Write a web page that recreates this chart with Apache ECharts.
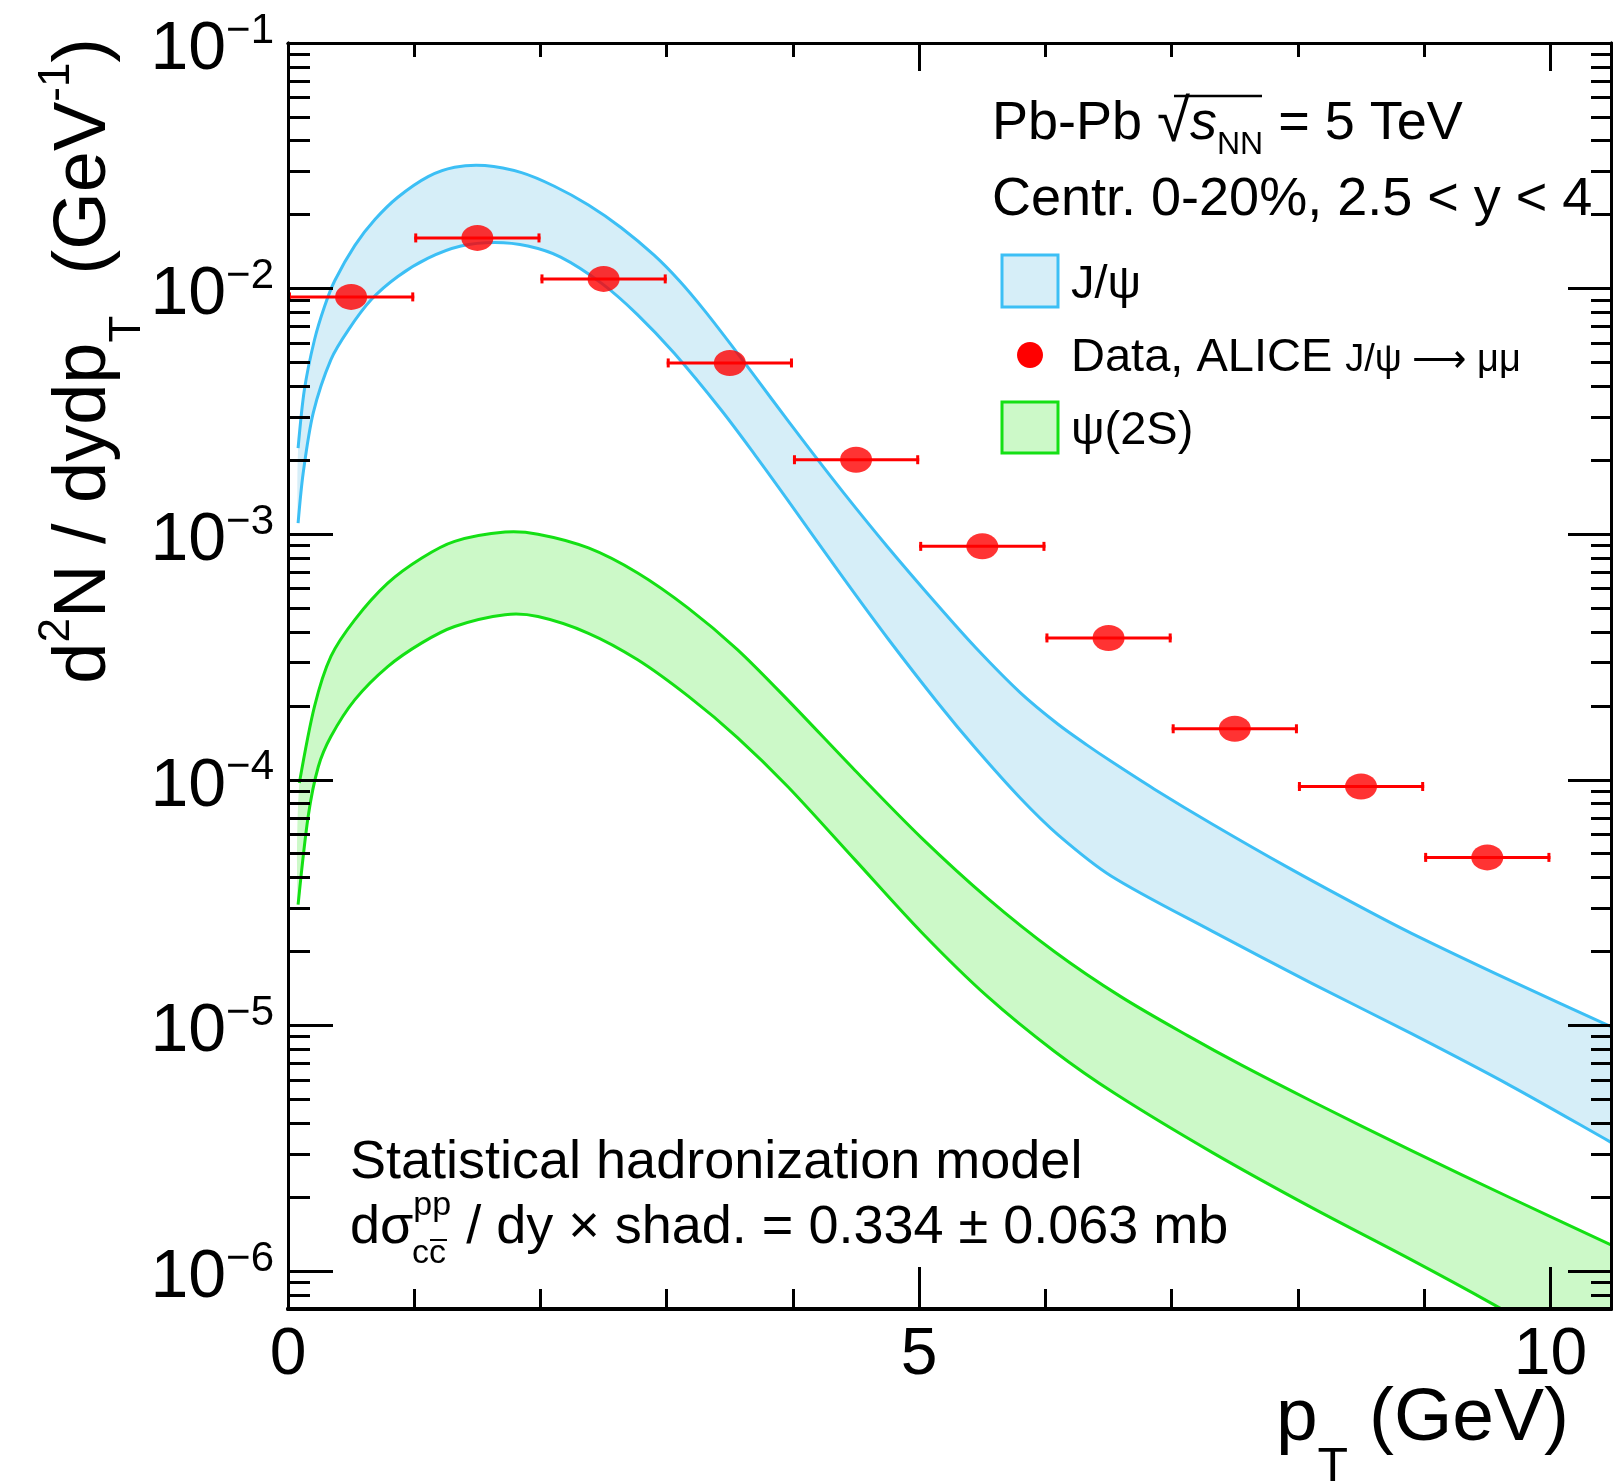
<!DOCTYPE html>
<html><head><meta charset="utf-8">
<script src="https://cdn.jsdelivr.net/npm/echarts@6/dist/echarts.min.js"></script>
<style>html,body{margin:0;padding:0;background:#fff}#c{width:1615px;height:1481px}</style>
</head><body><div id="c"></div>
<script>
// ---------------- data ----------------
const ptData      = [0.5, 1.5, 2.5, 3.5, 4.5, 5.5, 6.5, 7.5, 8.5, 9.5];
const ptHalfWidth = [0.5, 0.5, 0.5, 0.5, 0.5, 0.5, 0.5, 0.5, 0.5, 0.5];
const yieldData   = [9.25e-3, 1.608e-2, 1.095e-2, 4.98e-3, 2.01e-3, 8.92e-4, 3.78e-4, 1.613e-4, 9.39e-5, 4.83e-5];

const jpsiUpX = [0.08,0.13,0.21,0.29,0.37,0.53,0.69,0.87,1.11,1.32,1.56,1.85,2.11,2.38,2.64,2.90,3.10,3.30,3.56,3.83,4.10,4.40,4.75,5.15,5.45,5.80,6.10,6.33,6.52,6.86,7.32,7.92,8.50,8.90,9.69,10.48];
const jpsiUpY = [2.24e-3,3.88e-3,6.19e-3,8.47e-3,1.076e-2,1.50e-2,1.914e-2,2.355e-2,2.858e-2,3.119e-2,3.17e-2,2.965e-2,2.61e-2,2.19e-2,1.77e-2,1.368e-2,1.076e-2,8.13e-3,5.46e-3,3.56e-3,2.33e-3,1.476e-3,8.87e-4,5.11e-4,3.44e-4,2.265e-4,1.683e-4,1.384e-4,1.189e-4,9.18e-5,6.61e-5,4.40e-5,3.03e-5,2.37e-5,1.517e-5,9.89e-6];
const jpsiLoX = [0.08,0.12,0.20,0.34,0.48,0.66,0.87,1.11,1.37,1.64,1.90,2.16,2.49,2.77,3.06,3.43,3.70,3.96,4.40,4.75,5.15,5.45,5.80,6.10,6.52,7.32,8.11,8.90,9.69,10.48];
const jpsiLoY = [1.11e-3,1.77e-3,3.12e-3,5.14e-3,6.81e-3,9.02e-3,1.12e-2,1.33e-2,1.49e-2,1.54e-2,1.49e-2,1.343e-2,1.045e-2,7.82e-3,5.45e-3,3.21e-3,2.10e-3,1.374e-3,6.62e-4,3.77e-4,2.05e-4,1.337e-4,8.43e-5,5.97e-5,4.06e-5,2.42e-5,1.483e-5,9.25e-6,5.66e-6,3.34e-6];

const psi2UpX = [0.09,0.21,0.34,0.53,0.79,1.06,1.32,1.72,1.98,2.38,2.77,3.17,3.56,3.96,4.49,5.02,5.54,6.07,6.60,7.13,7.55,8.11,8.90,9.69,10.48];
const psi2UpY = [9.7e-5,1.99e-4,3.18e-4,4.49e-4,6.32e-4,8.0e-4,9.35e-4,1.02e-3,1.0e-3,8.79e-4,6.95e-4,5.0e-4,3.39e-4,2.11e-4,1.094e-4,5.79e-5,3.30e-5,2.00e-5,1.306e-5,9.06e-6,6.90e-6,4.91e-6,3.09e-6,1.977e-6,1.276e-6];
const psi2LoX = [0.08,0.16,0.24,0.34,0.53,0.79,1.06,1.32,1.72,1.98,2.38,2.77,3.17,3.56,3.96,4.49,5.02,5.54,6.07,6.56,7.32,8.11,8.90,9.53,10.48];
const psi2LoY = [3.1e-5,7.1e-5,1.13e-4,1.5e-4,2.12e-4,2.89e-4,3.61e-4,4.21e-4,4.7e-4,4.62e-4,3.95e-4,3.08e-4,2.19e-4,1.486e-4,9.37e-5,4.73e-5,2.39e-5,1.312e-5,7.85e-6,5.24e-6,3.04e-6,1.81e-6,1.109e-6,7.40e-7,3.92e-7];

const xMajorTicks = [0, 5, 10];
const xMinorTicks = [1, 2, 3, 4, 6, 7, 8, 9];
const yMajorTicks = [1e-6, 1e-5, 1e-4, 1e-3, 1e-2, 1e-1];

// ---------------- styling ----------------
const FONT = '"Liberation Sans", Arial, Helvetica, sans-serif';
const X_MIN = 0, X_MAX = 10.48, Y_MIN = 7e-7, Y_MAX = 0.1;
const BLUE_LINE = '#3cbff5', BLUE_FILL = '#d6eef8';
const GREEN_LINE = '#14e014', GREEN_FILL = '#ccf9c8';
const RED = '#ff0000';

const yMinorTicks = [];
yMajorTicks.concat([1e-7]).forEach(d => {
  for (let m = 2; m <= 9; m++) {
    const v = +(m * d).toPrecision(3);
    if (v > Y_MIN * 1.01 && v < Y_MAX) yMinorTicks.push(v);
  }
});

function xAx(position, ticks, len, showLabel, lw) {
  return {
    type: 'value', gridIndex: 0, position, offset: 0, min: X_MIN, max: X_MAX, z: 10,
    splitLine: { show: false },
    axisLine: { show: true, onZero: false, lineStyle: { color: '#000', width: lw || 3 } },
    axisTick: { show: true, inside: true, length: len, customValues: ticks, lineStyle: { color: '#000', width: 3 } },
    axisLabel: showLabel ? { show: true, customValues: ticks, margin: 14, color: '#000', fontSize: 66, fontFamily: FONT,
      formatter: v => String(v) } : { show: false }
  };
}
function yAx(position, ticks, len, showLabel) {
  return {
    type: 'log', logBase: 10, gridIndex: 0, position, offset: 0, min: Y_MIN, max: Y_MAX, z: 10,
    splitLine: { show: false },
    axisLine: { show: true, onZero: false, lineStyle: { color: '#000', width: 3 } },
    axisTick: { show: true, inside: true, length: len, customValues: ticks, lineStyle: { color: '#000', width: 3 } },
    axisLabel: showLabel ? {
      show: true, customValues: ticks, margin: 14, padding: [14, 0, 0, 0],
      formatter: v => { const e = Math.round(Math.log10(v)); return '{b|10}{e|' + (e < 0 ? '\u2212' + (-e) : e) + '}'; },
      rich: {
        b: { fontSize: 68, fontFamily: FONT, color: '#000', lineHeight: 80, verticalAlign: 'middle' },
        e: { fontSize: 42, fontFamily: FONT, color: '#000', lineHeight: 40, verticalAlign: 'top' }
      }
    } : { show: false }
  };
}

// continue the last segment a little beyond the plot edge (pixel space, clipped away)
function tail(pts) {
  const n = pts.length, a = pts[n - 2], b = pts[n - 1];
  return [b[0] + (b[0] - a[0]), b[1] + (b[1] - a[1])];
}
function band(xU, yU, xL, yL, fill, stroke) {
  return {
    type: 'custom', coordinateSystem: 'cartesian2d', xAxisIndex: 0, yAxisIndex: 0,
    clip: true, silent: true, z: 2,
    data: [[xU[0], yU[0]]],
    renderItem: (params, api) => {
      const up = xU.map((x, i) => api.coord([x, yU[i]]));
      const lo = xL.map((x, i) => api.coord([x, yL[i]]));
      const upE = up.concat([tail(up)]);
      const loE = lo.concat([tail(lo)]);
      return { type: 'group', children: [
        { type: 'polygon', shape: { points: upE.concat(loE.slice().reverse()), smooth: 0.3 }, style: { fill: fill, stroke: null } },
        { type: 'polyline', shape: { points: upE, smooth: 0.3 }, style: { stroke: stroke, lineWidth: 3, fill: null } },
        { type: 'polyline', shape: { points: loE, smooth: 0.3 }, style: { stroke: stroke, lineWidth: 3, fill: null } }
      ]};
    }
  };
}

function R(fs, lh, va, more) { return Object.assign({ fontSize: fs, fontFamily: FONT, fill: '#000', color: '#000', lineHeight: lh, verticalAlign: va }, more || {}); }
function txt(x, y, text, rich, align, extra) {
  align = align || 'left';
  return Object.assign({
    type: 'text', x: x, y: y, silent: true, z: 100,
    style: { text: text, rich: rich, fill: '#000', fontFamily: FONT, fontSize: 54,
      align: align, textAlign: align, verticalAlign: 'middle', textVerticalAlign: 'middle' }
  }, extra || {});
}

const chart = echarts.init(document.getElementById('c'));
chart.setOption({
  animation: false,
  backgroundColor: '#fff',
  textStyle: { fontFamily: FONT },
  grid: { left: 288, top: 43, right: 4, bottom: 172, containLabel: false },
  xAxis: [
    xAx('bottom', xMajorTicks, 42, true, 4),
    xAx('bottom', xMinorTicks, 20, false, 4),
    xAx('top', xMajorTicks, 28, false),
    xAx('top', xMinorTicks, 14, false)
  ],
  yAxis: [
    yAx('left', yMajorTicks, 45, true),
    yAx('left', yMinorTicks, 22, false),
    yAx('right', yMajorTicks, 43, false),
    yAx('right', yMinorTicks, 20, false)
  ],
  series: [
    band(jpsiUpX, jpsiUpY, jpsiLoX, jpsiLoY, BLUE_FILL, BLUE_LINE),
    band(psi2UpX, psi2UpY, psi2LoX, psi2LoY, GREEN_FILL, GREEN_LINE),
    {
      type: 'custom', coordinateSystem: 'cartesian2d', xAxisIndex: 0, yAxisIndex: 0, z: 3, silent: true,
      data: ptData.map((x, i) => [x, yieldData[i], ptHalfWidth[i]]),
      renderItem: (params, api) => {
        const x = api.value(0), y = api.value(1), e = api.value(2);
        const a = api.coord([x - e, y]), b = api.coord([x + e, y]);
        const st = { stroke: RED, lineWidth: 3 };
        return { type: 'group', children: [
          { type: 'line', shape: { x1: a[0], y1: a[1], x2: b[0], y2: b[1] }, style: st },
          { type: 'line', shape: { x1: a[0] + 1.5, y1: a[1] - 4.5, x2: a[0] + 1.5, y2: a[1] + 4.5 }, style: st },
          { type: 'line', shape: { x1: b[0] - 1.5, y1: b[1] - 4.5, x2: b[0] - 1.5, y2: b[1] + 4.5 }, style: st }
        ]};
      }
    },
    {
      type: 'scatter', xAxisIndex: 0, yAxisIndex: 0, z: 4, silent: true,
      symbol: 'circle', symbolSize: [32, 26],
      itemStyle: { color: RED },
      data: ptData.map((x, i) => [x, yieldData[i]])
    }
  ],
  graphic: [
    // axis titles
    txt(85, 38, '{n|d}{sp|2}{n|N / dydp}{sb|T}{n|  (GeV}{sp|-1}{n|)}', {
      n: R(74, 130, 'middle'), sp: R(44, 44, 'top', { padding: [15, 0, 0, 0] }), sb: R(44, 44, 'bottom')
    }, 'right', { rotation: Math.PI / 2 }),
    txt(1569, 1419, '{n|p}{sb|T}{n| (GeV)}', { n: R(75, 150, 'middle'), sb: R(50, 50, 'bottom') }, 'right'),
    // header
    txt(992, 124, '{n|Pb-Pb }{r|\u221A}{i|s}{sb|NN}{n| = 5 TeV}', {
      n: R(54, 74, 'middle'), r: R(60, 74, 'middle'), i: R(54, 74, 'middle', { fontStyle: 'italic' }), sb: R(32, 32, 'bottom')
    }),
    { type: 'line', silent: true, z: 100, shape: { x1: 1174, y1: 96, x2: 1262, y2: 96 }, style: { stroke: '#000', lineWidth: 2.5 } },
    txt(992, 200, '{n|Centr. 0-20%, 2.5 < y < 4}', { n: R(54, 60, 'middle') }),
    // legend
    { type: 'rect', silent: true, z: 100, shape: { x: 1002, y: 255, width: 56, height: 52 }, style: { fill: BLUE_FILL, stroke: BLUE_LINE, lineWidth: 3 } },
    txt(1071, 285, '{a|J/\u03C8}', { a: R(47, 50, 'middle') }),
    { type: 'ellipse', silent: true, z: 100, shape: { cx: 1030, cy: 355, rx: 13, ry: 13 }, style: { fill: RED } },
    txt(1071, 358, '{a|Data, ALICE }{s|J/\u03C8 \u27F6 \u03BC\u03BC}', { a: R(47, 44, 'middle'), s: R(38, 38, 'bottom') }),
    { type: 'rect', silent: true, z: 100, shape: { x: 1002, y: 402, width: 56, height: 51 }, style: { fill: GREEN_FILL, stroke: GREEN_LINE, lineWidth: 3 } },
    txt(1071, 431, '{a|\u03C8(2S)}', { a: R(47, 50, 'middle') }),
    // bottom annotation
    txt(350, 1163, '{n|Statistical hadronization model}', { n: R(54, 60, 'middle') }),
    txt(350, 1228, '{n|d\u03C3}{sp|pp}{n| / dy \u00D7 shad. = 0.334 \u00B1 0.063 mb}', { n: R(54, 78, 'middle'), sp: R(34, 36, 'top') }),
    txt(412, 1254, '{s|cc}', { s: R(34, 36, 'middle') }),
    { type: 'line', silent: true, z: 100, shape: { x1: 430, y1: 1240, x2: 447, y2: 1240 }, style: { stroke: '#000', lineWidth: 2 } }
  ]
});
</script>
</body></html>
